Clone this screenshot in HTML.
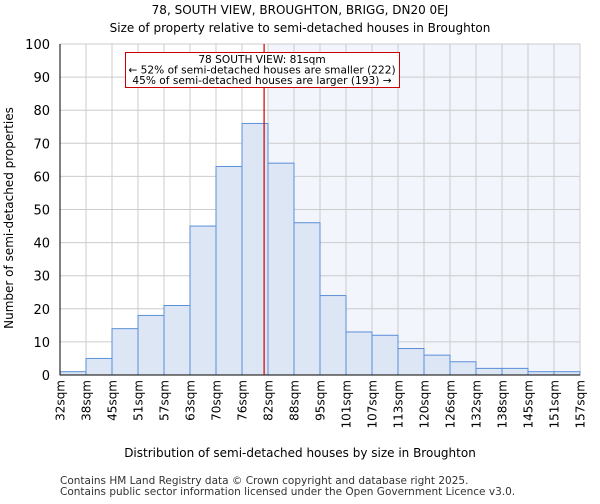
<!DOCTYPE html>
<html><head><meta charset="utf-8"><style>
body{margin:0;background:#fff;font-family:"DejaVu Sans","Liberation Sans",sans-serif}
</style></head><body>
<svg width="600" height="500" xmlns="http://www.w3.org/2000/svg" font-family="DejaVu Sans, Liberation Sans, sans-serif">
<text x="300" y="14" font-size="12" text-anchor="middle">78, SOUTH VIEW, BROUGHTON, BRIGG, DN20 0EJ</text>
<text x="300" y="32" font-size="12" text-anchor="middle">Size of property relative to semi-detached houses in Broughton</text>
<g id="plot"></g>
<text x="300" y="457" font-size="12" text-anchor="middle">Distribution of semi-detached houses by size in Broughton</text>
<text transform="translate(13,218) rotate(-90)" font-size="12" text-anchor="middle">Number of semi-detached properties</text>
<text x="60" y="484" font-size="10.5" fill="#333">Contains HM Land Registry data © Crown copyright and database right 2025.</text>
<text x="60" y="495" font-size="10.5" fill="#333">Contains public sector information licensed under the Open Government Licence v3.0.</text>
</svg>
<script>
const tickLabels=["32sqm","38sqm","45sqm","51sqm","57sqm","63sqm","70sqm","76sqm","82sqm","88sqm","95sqm","101sqm","107sqm","113sqm","120sqm","126sqm","132sqm","138sqm","145sqm","151sqm","157sqm"];
const counts=[1,5,14,18,21,45,63,76,64,46,24,13,12,8,6,4,2,2,1,1];
const yTicks=[0,10,20,30,40,50,60,70,80,90,100];
const markerBinPos=7.85; // property at 81sqm, fractional bin index
const shadeFromBin=8;
const L=60,R=580,T=44,B=375,NS="http://www.w3.org/2000/svg";
const n=counts.length,bw=(R-L)/n;
const x=i=>L+i*bw, y=v=>B-(B-T)*v/100;
const g=document.getElementById('plot');
function mk(t,a){const e=document.createElementNS(NS,t);for(const k in a)e.setAttribute(k,a[k]);g.appendChild(e);return e;}
let e=mk('rect',{x:x(shadeFromBin),y:T,width:R-x(shadeFromBin),height:B-T,fill:'#f2f5fc'});


for(let i=0;i<=n;i++){e=mk('line',{x1:x(i),x2:x(i),y1:T,y2:B,stroke:'#cccccc'});

}
yTicks.forEach(v=>{e=mk('line',{x1:L,x2:R,y1:y(v),y2:y(v),stroke:'#cccccc'});


e=mk('text',{x:L-10,y:y(v)+5,'font-size':13,'text-anchor':'end'});e.textContent=v;

});
counts.forEach((c,i)=>{e=mk('rect',{x:x(i),y:y(c),width:bw,height:B-y(c),fill:'#dce6f5',stroke:'#5b8fd6','stroke-width':1});

});
tickLabels.forEach((t,i)=>{e=mk('text',{transform:`translate(${x(i)+4.5},380) rotate(-90)`,'font-size':12,'text-anchor':'end'});e.textContent=t;

});
e=mk('line',{x1:L,x2:L,y1:T,y2:B,stroke:'#000'});


e=mk('line',{x1:L,x2:R,y1:B,y2:B,stroke:'#000'});


const mx=x(markerBinPos);
e=mk('line',{x1:mx,x2:mx,y1:T,y2:B,stroke:'#cc0000','stroke-width':1.2});


e=mk('rect',{x:125.5,y:52.5,width:274,height:35,fill:'#fff',stroke:'#cc0000'});


["78 SOUTH VIEW: 81sqm","← 52% of semi-detached houses are smaller (222)","45% of semi-detached houses are larger (193) →"].forEach((t,i)=>{
e=mk('text',{x:262,y:63+i*10.5,'font-size':10.6,'text-anchor':'middle'});e.textContent=t;

});
</script>
</body></html>
